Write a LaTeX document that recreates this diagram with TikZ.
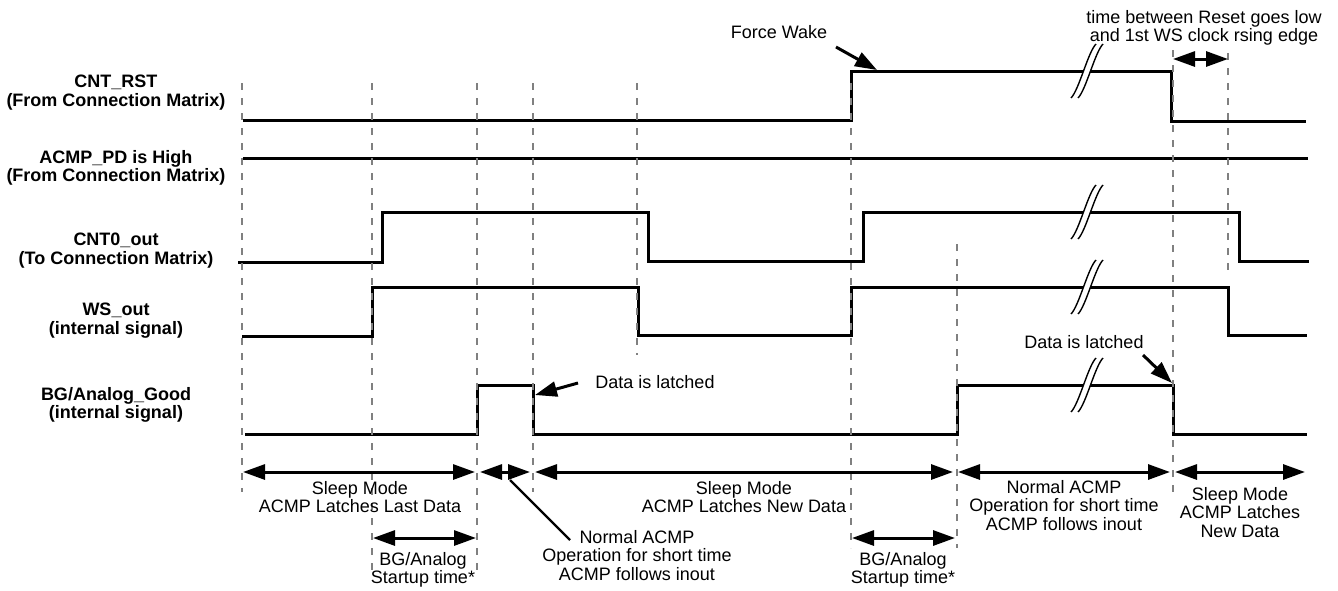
\documentclass[tikz,border=0pt]{standalone}
\usepackage{fontspec}
\setmainfont{Liberation Sans}
\usepackage{tikz}
\usetikzlibrary{arrows.meta}
\newcommand{\diagfont}{\fontsize{18}{18.5}\selectfont}
\tikzstyle{signal} = [line width=3pt, line join=miter]
\tikzstyle{guide} = [draw=gray, line width=2.8pt, dash pattern=on 7pt off 8pt]
\tikzstyle{span} = [draw, line width=3pt, {Triangle[length=22pt, width=15pt]}-{Triangle[length=22pt, width=15pt]}]
\tikzstyle{pointer} = [draw, line width=3pt, -{Triangle[length=22pt, width=15pt]}]
\tikzstyle{leader} = [draw, line width=2.2pt]
\tikzstyle{breakline} = [line width=1.4pt]
\tikzstyle{label} = [font=\diagfont\bfseries, align=center, inner sep=0pt, anchor=north]
\tikzstyle{note} = [font=\diagfont, align=center, inner sep=0pt, anchor=north]
\newcommand{\signalbreak}[2]{%
  \begin{scope}[shift={(#1,#2)}]
    \fill[white] (-15,27) .. controls (-7,19) and (2,-19) .. (10,-27) -- (17,-27)
      .. controls (9,-19) and (0,19) .. (-8,27) -- cycle;
    \draw[breakline] (-15,27) .. controls (-7,19) and (2,-19) .. (10,-27);
    \draw[breakline] (-8,27) .. controls (0,19) and (9,-19) .. (17,-27);
  \end{scope}}

\begin{document}
\begin{tikzpicture}[x=1pt, y=-1pt]
    \useasboundingbox (0,0) rectangle (1338,590);

    % signal names
    \node[label] (rstname) at (116,75) {CNT\_RST\\(From Connection Matrix)};
    \node[label] (pdname) at (116,150) {ACMP\_PD is High\\(From Connection Matrix)};
    \node[label] (cntname) at (116,233) {CNT0\_out\\(To Connection Matrix)};
    \node[label] (wsname) at (116,303) {WS\_out\\(internal signal)};
    \node[label] (bgname) at (116,387) {BG/Analog\_Good\\(internal signal)};

    % waveforms
    \draw[signal] (243,120) -- (851,120) -- (851,71) -- (1171,71) -- (1171,121) -- (1306,121);
    \draw[signal] (243,158) -- (1308,158);
    \draw[signal] (238,262) -- (382,262) -- (382,212) -- (648,212) -- (648,261) -- (863,261)
        -- (863,212) -- (1239,212) -- (1239,261) -- (1309,261);
    \draw[signal] (242,336) -- (372,336) -- (372,287) -- (638,287) -- (638,335) -- (851,335)
        -- (851,287) -- (1228,287) -- (1228,335) -- (1307,335);
    \draw[signal] (245,434) -- (477,434) -- (477,385) -- (533,385) -- (533,434) -- (957,434)
        -- (957,385) -- (1173,385) -- (1173,434) -- (1307,434);

    \signalbreak{1086}{71}
    \signalbreak{1086}{212}
    \signalbreak{1086}{287}
    \signalbreak{1086}{385}

    % time markers
    \draw[guide] (242,83) -- (242,492);
    \draw[guide] (372,83) -- (372,572);
    \draw[guide] (477,83) -- (477,572);
    \draw[guide] (533,83) -- (533,492);
    \draw[guide] (637,83) -- (637,355);
    \draw[guide] (851,83) -- (851,548);
    \draw[guide] (957,244) -- (957,548);
    \draw[guide] (1173,50) -- (1173,492);
    \draw[guide] (1228,53) -- (1228,277);

    % intervals
    \coordinate (sleepa) at (243,472);
    \coordinate (sleepb) at (475,472);
    \coordinate (runa) at (480,472);
    \coordinate (runb) at (530,472);
    \coordinate (sleepc) at (535,472);
    \coordinate (sleepd) at (953,472);
    \coordinate (runc) at (958,472);
    \coordinate (rund) at (1170,472);
    \coordinate (sleepe) at (1175,472);
    \coordinate (sleepf) at (1305,472);
    \path[span] (sleepa) -- (sleepb);
    \path[span] (runa) -- (runb);
    \path[span] (sleepc) -- (sleepd);
    \path[span] (runc) -- (rund);
    \path[span] (sleepe) -- (sleepf);

    \coordinate (boota) at (373,538);
    \coordinate (bootb) at (476,538);
    \coordinate (bootc) at (852,538);
    \coordinate (bootd) at (955,538);
    \path[span] (boota) -- (bootb);
    \path[span] (bootc) -- (bootd);

    \coordinate (gapa) at (1173,59);
    \coordinate (gapb) at (1228,59);
    \path[span] (gapa) -- (gapb);

    \node[note] (sleepone) at (360,481) {Sleep Mode\\ACMP Latches Last Data};
    \node[note] (sleeptwo) at (744,481) {Sleep Mode\\ACMP Latches New Data};
    \node[note] (runtwo) at (1064,480) {Normal ACMP\\Operation for short time\\ACMP follows inout};
    \node[note] (sleepthree) at (1240,487) {Sleep Mode\\ACMP Latches\\New Data};
    \node[note] (runone) at (637,530) {Normal ACMP\\Operation for short time\\ACMP follows inout};
    \node[note] (bootone) at (423,552) {BG/Analog\\Startup time*};
    \node[note] (boottwo) at (903,552) {BG/Analog\\Startup time*};

    \coordinate (runtail) at (510,480);
    \coordinate (runhead) at (570,540);
    \path[leader] (runtail) -- (runhead);

    % callouts
    \node[note] (wake) at (779,25) {Force Wake};
    \coordinate (waketail) at (836,47);
    \coordinate (waketip) at (877,70);
    \path[pointer] (waketail) -- (waketip);

    \node[note] (latchone) at (655,375) {Data is latched};
    \coordinate (latchonetail) at (578,383);
    \coordinate (latchonetip) at (535,395);
    \path[pointer] (latchonetail) -- (latchonetip);

    \node[note] (latchtwo) at (1084,335) {Data is latched};
    \coordinate (latchtwotail) at (1143,355);
    \coordinate (latchtwotip) at (1172,383);
    \path[pointer] (latchtwotail) -- (latchtwotip);

    \node[note] (gapnote) at (1204,10) {time between Reset goes low\\and 1st WS clock rsing edge};

\end{tikzpicture}
\end{document}
